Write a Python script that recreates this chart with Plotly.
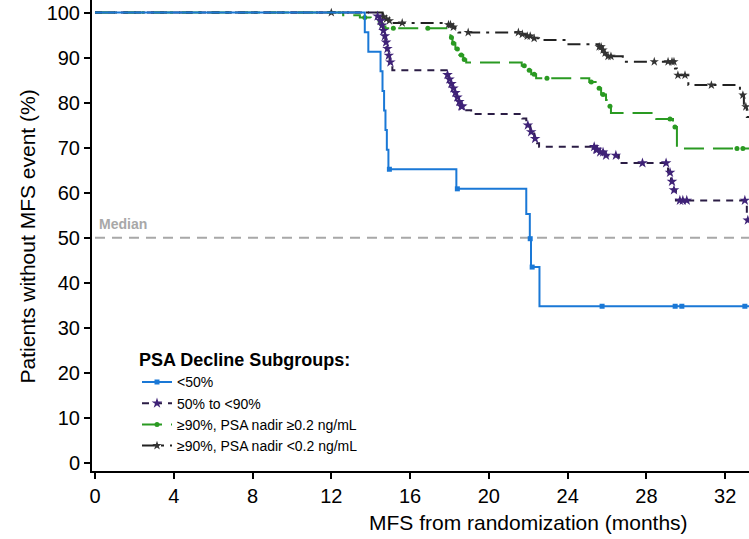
import numpy as np
import plotly.graph_objects as go

# ---------------- data ----------------
x_ticks = [0, 4, 8, 12, 16, 20, 24, 28, 32]
y_ticks = [0, 10, 20, 30, 40, 50, 60, 70, 80, 90, 100]
x_end = 33.3

names = ["<50%", "50% to <90%", "≥90%, PSA nadir ≥0.2 ng/mL", "≥90%, PSA nadir <0.2 ng/mL"]

blue_t = [0, 13.7, 13.88, 14.5, 14.6, 14.68, 14.75, 14.82, 14.9, 18.35, 21.9, 22.08, 22.14, 22.57]
blue_s = [100, 95.65, 91.3, 86.96, 82.61, 78.26, 73.91, 69.57, 65.22, 60.87, 55.3, 49.8, 43.5, 34.8]
blue_c = [14.95, 18.4, 22.1, 22.2, 25.75, 29.46, 29.8, 33.0]

purple_t = [0, 14.3, 14.45, 14.55, 14.62, 14.68, 14.74, 14.8, 14.88, 14.96, 15.1,
            17.85, 17.95, 18.05, 18.15, 18.25, 18.35, 18.45, 18.55, 18.7, 19.1,
            21.7, 21.9, 22.1, 22.3, 22.45, 22.55, 25.4, 25.6, 25.9, 26.6,
            29.1, 29.25, 29.35, 29.5, 33.1]
purple_s = [100, 99.2, 98.2, 97.2, 96.0, 94.8, 93.4, 92.0, 90.5, 89.0, 87.2,
            86.2, 85.2, 84.2, 83.2, 82.2, 81.2, 80.2, 79.2, 78.3, 77.5,
            76.5, 75.0, 73.5, 72.0, 71.0, 70.2, 69.6, 69.0, 68.3, 66.6,
            64.5, 62.5, 60.6, 58.3, 53.9]
purple_c = [14.35, 14.5, 14.58, 14.65, 14.72, 14.78, 14.85, 14.92, 15.0,
            17.9, 18.0, 18.1, 18.2, 18.3, 18.4, 18.5, 18.6, 18.65,
            21.98, 22.15, 22.35, 25.35, 25.45, 25.5, 25.65, 25.8, 25.95, 26.45,
            27.8, 29.0, 29.2, 29.3, 29.4, 29.7, 29.85, 30.05, 33.0, 33.15]

green_t = [0, 12.6, 13.45, 14.0, 14.4, 14.5, 14.6, 14.75, 18.0, 18.05, 18.15, 18.3, 18.5, 18.7, 18.85,
           21.67, 21.9, 22.15, 22.4, 25.1, 25.5, 25.7, 25.95, 26.05, 26.2, 28.5, 29.35, 29.55]
green_s = [100, 99.4, 98.9, 98.5, 98.0, 97.4, 96.9, 96.5, 95.6, 94.5, 93.2, 91.9, 90.6, 89.6, 88.9,
           88.2, 87.2, 86.3, 85.4, 84.6, 83.2, 81.8, 80.6, 79.2, 77.7, 76.4, 74.6, 69.8]
green_c = [13.7, 14.55, 15.15, 16.9, 18.1, 18.2, 18.4, 18.6, 18.75, 21.8, 22.05, 22.3, 22.95,
           25.2, 25.6, 25.8, 26.15, 29.2, 29.45, 32.6, 32.9]

black_t = [0, 14.6, 14.75, 14.9, 15.05, 17.95, 18.15, 18.3, 18.45, 21.6, 21.9, 22.2, 22.55, 23.95,
           25.6, 25.75, 25.85, 25.95, 26.8, 29.45, 29.55, 30.13, 32.75, 32.95, 33.1]
black_s = [100, 99.1, 98.6, 98.2, 97.7, 97.3, 96.8, 96.2, 95.6, 95.2, 94.8, 94.3, 93.9, 93.0,
           92.4, 91.7, 91.0, 90.3, 89.1, 87.6, 86.1, 83.9, 81.7, 79.1, 76.8]
black_c = [12.0, 14.65, 14.8, 14.95, 15.6, 17.95, 18.05, 18.2, 18.95, 21.5, 21.7, 21.95, 22.1, 22.3,
           25.6, 25.7, 25.8, 25.9, 26.05, 26.2, 28.4, 29.1, 29.3, 29.4, 29.6, 29.96, 31.3, 32.9, 33.05]

median_value = 50

# ---------------- styles ----------------
styles = [
    dict(color="#1a78d6", dash="solid", symbol="square", msize=5, mcolor="#1a78d6"),
    dict(color="#2b1d45", dash="7px,6px", symbol="star", msize=8, mcolor="#3f2277"),
    dict(color="#2a9a22", dash="20px,9px", symbol="circle", msize=5, mcolor="#2a9a22"),
    dict(color="#222222", dash="13px,6px,3px,6px", symbol="star", msize=7, mcolor="#333333"),
]

series = [
    (blue_t, blue_s, blue_c),
    (purple_t, purple_s, purple_c),
    (green_t, green_s, green_c),
    (black_t, black_s, black_c),
]

font_family = "Liberation Sans, Arial, sans-serif"
fig = go.Figure()

# median reference line
fig.add_shape(type="line", xref="x", yref="y", x0=0, x1=x_end, y0=median_value, y1=median_value,
              line=dict(color="#a8a8a8", width=2, dash="10px,7px"), layer="below")

draw_order = [3, 2, 1, 0]
for i in draw_order:
    t, s, c = series[i]
    st = styles[i]
    tx = list(t) + [x_end]
    sy = list(s) + [s[-1]]
    fig.add_trace(go.Scatter(x=tx, y=sy, mode="lines", line=dict(color=st["color"], width=2,
                             dash=st["dash"], shape="hv"), showlegend=False, hoverinfo="skip"))
    ct = np.array(c)
    idx = np.searchsorted(np.array(t), ct, side="right") - 1
    cy = np.array(s)[idx]
    fig.add_trace(go.Scatter(x=ct, y=cy, mode="markers",
                             marker=dict(symbol=st["symbol"], size=st["msize"], color=st["mcolor"],
                                         line=dict(width=0)),
                             showlegend=False, hoverinfo="skip"))

# legend entries
for i, nm in enumerate(names):
    st = styles[i]
    fig.add_trace(go.Scatter(x=[None], y=[None], mode="lines+markers", name=nm,
                             line=dict(color=st["color"], width=2, dash=st["dash"]),
                             marker=dict(symbol=st["symbol"], size=st["msize"], color=st["mcolor"])))

fig.add_annotation(x=0.1, y=median_value, xref="x", yref="y", text="<b>Median</b>", showarrow=False,
                   xanchor="left", yanchor="middle", yshift=14,
                   font=dict(size=14, color="#a8a8a8", family=font_family))

fig.add_annotation(x=(27 - 92) / 657, y=0.498, xref="paper", yref="paper",
                   text="Patients without MFS event (%)", textangle=-90, showarrow=False,
                   xanchor="center", yanchor="middle", font=dict(size=21, color="black", family=font_family))
fig.add_annotation(x=(528 - 92) / 657, y=1 - 522 / 471, xref="paper", yref="paper",
                   text="MFS from randomization (months)", showarrow=False,
                   xanchor="center", yanchor="middle", font=dict(size=21, color="black", family=font_family))

fig.update_layout(
    width=749, height=539,
    margin=dict(l=92, r=0, t=0, b=68),
    plot_bgcolor="white", paper_bgcolor="white",
    font=dict(family=font_family, color="black"),
    legend=dict(x=(137 - 92) / 657, y=1 - 343 / 471, xanchor="left", yanchor="top",
                bgcolor="rgba(0,0,0,0)", borderwidth=0,
                title=dict(text="<b>PSA Decline Subgroups:</b>", font=dict(size=18, family=font_family)),
                font=dict(size=14, family=font_family), tracegroupgap=0),
)
fig.update_xaxes(range=[-0.152, 33.21], tickvals=x_ticks, ticks="outside", ticklen=6, tickwidth=2,
                 tickcolor="black", showline=True, linewidth=2, linecolor="black", showgrid=False,
                 zeroline=False, tickfont=dict(size=20, family=font_family))
fig.update_yaxes(range=[-1.78, 102.8], tickvals=y_ticks, ticks="outside", ticklen=6, tickwidth=2,
                 tickcolor="black", showline=True, linewidth=2, linecolor="black", showgrid=False,
                 zeroline=False, tickfont=dict(size=20, family=font_family))

fig.write_html("out.html")
